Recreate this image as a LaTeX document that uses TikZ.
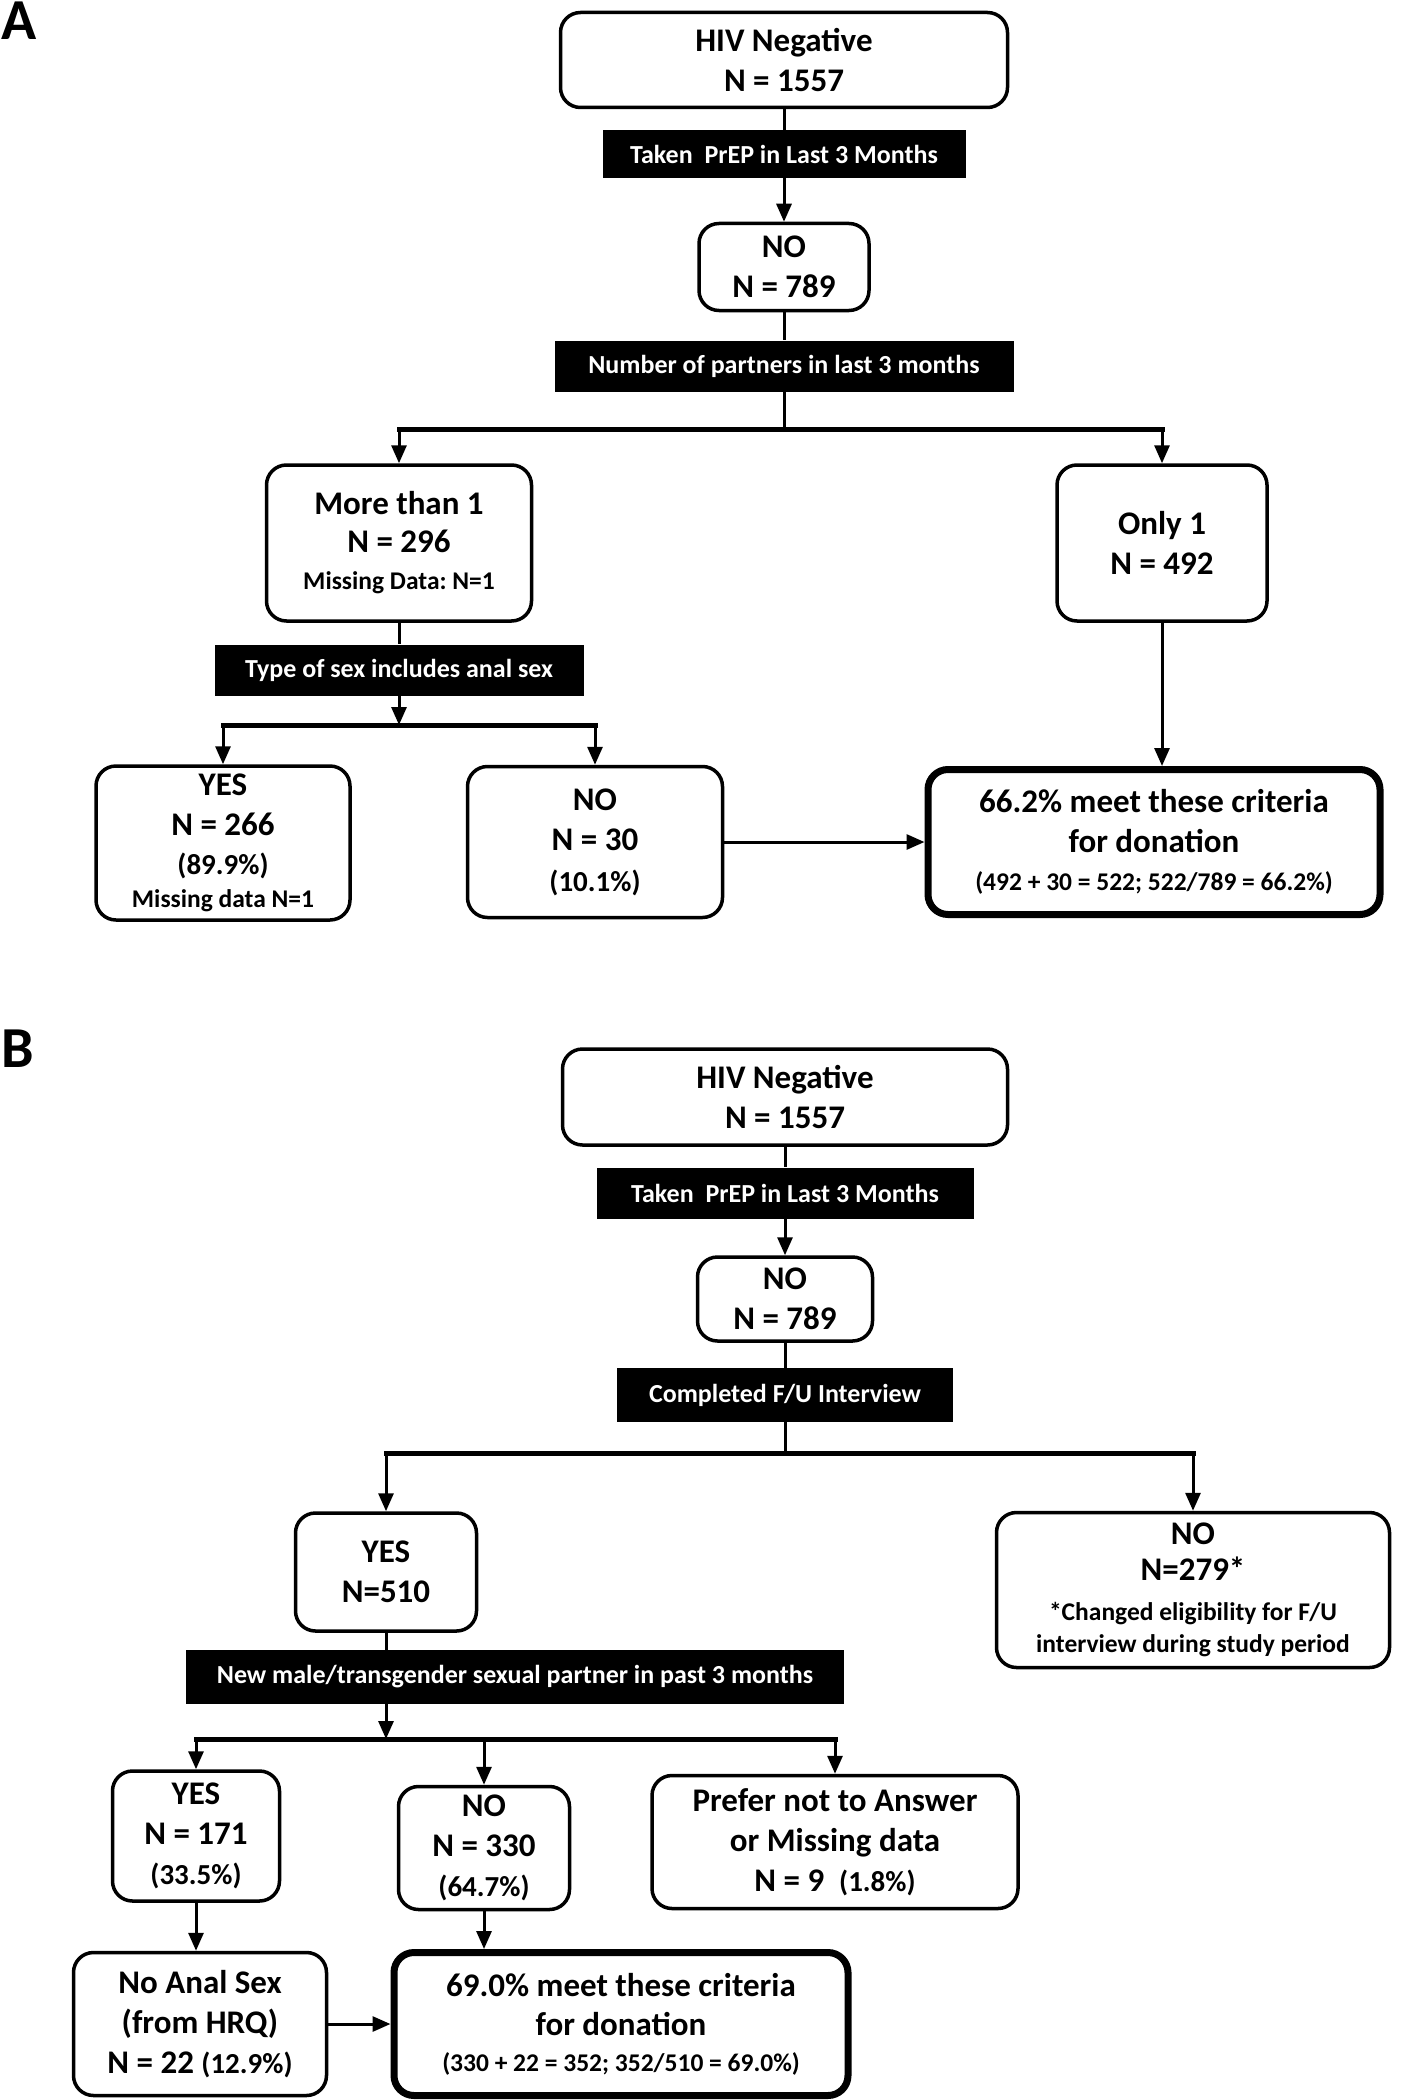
\documentclass[tikz,border=0pt]{standalone}
\usepackage{fontspec}
\setmainfont{Carlito}
\usetikzlibrary{arrows.meta}
\newcommand{\sm}{\fontsize{25.5}{32}\selectfont}
\newcommand{\pc}{\fontsize{29}{36}\selectfont}
\frenchspacing

\begin{document}
\begin{tikzpicture}[x=1pt,y=-1pt,
  every node/.style={font=\bfseries\fontsize{33}{40}\selectfont},
  box/.style={draw,line width=3.5pt,rounded corners=20pt,fill=white,align=center,inner sep=0pt},
  crit/.style={box,line width=7pt},
  qlbl/.style={fill=black,text=white,font=\bfseries\fontsize{26}{30}\selectfont,inner sep=0pt},
  panel/.style={anchor=base west,font=\bfseries\fontsize{58}{60}\selectfont},
  link/.style={line width=3pt},
  arr/.style={line width=3pt,-{Triangle[width=15pt,length=18pt]}},
  bus/.style={line width=5pt,line cap=rect}]
    \useasboundingbox (0,0) rectangle (1401,2100);
    \node[panel] (pa) at (-2,40) {A};
    \node[box,minimum width=447pt,minimum height=95pt] (a1) at (784,60) {HIV Negative\\N = 1557};
    \node[qlbl,minimum width=363pt,minimum height=48pt] (qa1) at (784,154) {Taken\ \ PrEP in Last 3 Months};
    \node[box,minimum width=170pt,minimum height=87pt] (a2) at (784,267) {NO\\N = 789};
    \node[qlbl,minimum width=459pt,minimum height=51pt] (qa2) at (784,366) {Number of partners in last 3 months};
    \coordinate (ja1) at (784,429);
    \node[box,minimum width=265pt,minimum height=156pt] (a3) at (399,543) {More than 1\\[-2.5pt]N = 296\\[-2.5pt]{\sm Missing Data: N=1}};
    \node[box,minimum width=210pt,minimum height=156pt] (a4) at (1162,543) {Only 1\\N = 492};
    \node[qlbl,minimum width=369pt,minimum height=51pt] (qa3) at (399,670) {Type of sex includes anal sex};
    \coordinate (ja2) at (399,725);
    \node[box,minimum width=254pt,minimum height=154pt] (a5) at (223,843) {YES\\N = 266\\[-1pt]{\pc (89.9\%)}\\[-6.5pt]{\sm Missing data N=1}};
    \node[box,minimum width=255pt,minimum height=151pt] (a6) at (595,842) {NO\\N = 30\\[1pt]{\pc (10.1\%)}};
    \node[crit,minimum width=452pt,minimum height=145pt] (a7) at (1154,842) {66.2\% meet these criteria\\for donation\\[-2.5pt]{\sm (492 + 30 = 522; 522/789 = 66.2\%)}};

    \draw[link] (a1) -- (qa1);
    \draw[arr] (qa1) -- (a2);
    \draw[link] (a2) -- (qa2);
    \draw[link] (qa2) -- (ja1);
    \draw[bus] (a3.north |- ja1) -- (a4.north |- ja1);
    \draw[arr] (a3.north |- ja1) -- (a3);
    \draw[arr] (a4.north |- ja1) -- (a4);
    \draw[link] (a3) -- (qa3);
    \draw[arr] (qa3) -- (ja2);
    \draw[bus] (a5.north |- ja2) -- (a6.north |- ja2);
    \draw[arr] (a5.north |- ja2) -- (a5);
    \draw[arr] (a6.north |- ja2) -- (a6);
    \draw[arr] (a6) -- (a7);
    \draw[arr] (a4.south) -- (a4.south |- a7.north);

    \node[panel] (pb) at (-2,1067) {B};
    \node[box,minimum width=445pt,minimum height=96pt] (b1) at (785,1097) {HIV Negative\\N = 1557};
    \node[qlbl,minimum width=377pt,minimum height=51pt] (qb1) at (785,1193) {Taken\ \ PrEP in Last 3 Months};
    \node[box,minimum width=175pt,minimum height=84pt] (b2) at (785,1299) {NO\\N = 789};
    \node[qlbl,minimum width=336pt,minimum height=54pt] (qb2) at (785,1395) {Completed F/U Interview};
    \coordinate (jb1) at (785,1453);
    \node[box,minimum width=181pt,minimum height=118pt] (b3) at (386,1572) {YES\\N=510};
    \node[box,minimum width=393pt,minimum height=155pt] (b4) at (1193,1590) {NO\\[-4pt]N=279*\\{\sm *Changed eligibility for F/U}\\[-8pt]{\sm interview during study period}};
    \node[qlbl,minimum width=658pt,minimum height=54pt] (qb3) at (515,1677) {New male/transgender sexual partner in past 3 months};
    \coordinate (jb2) at (386,1739);
    \node[box,minimum width=167pt,minimum height=130pt] (b5) at (196,1836) {YES\\N = 171\\{\pc (33.5\%)}};
    \node[box,minimum width=171pt,minimum height=123pt] (b6) at (484,1848) {NO\\N = 330\\{\pc (64.7\%)}};
    \node[box,minimum width=366pt,minimum height=133pt] (b7) at (835,1842) {Prefer not to Answer\\or Missing data\\N = 9\ \ {\pc (1.8\%)}};
    \node[box,minimum width=253pt,minimum height=143pt] (b8) at (200,2024) {No Anal Sex\\(from HRQ)\\N = 22 {\pc (12.9\%)}};
    \node[crit,minimum width=454pt,minimum height=143pt] (b9) at (621,2024) {69.0\% meet these criteria\\[-1pt]for donation\\[-4pt]{\sm (330 + 22 = 352; 352/510 = 69.0\%)}};

    \draw[link] (b1) -- (qb1);
    \draw[arr] (qb1) -- (b2);
    \draw[link] (b2) -- (qb2);
    \draw[link] (qb2) -- (jb1);
    \draw[bus] (b3.north |- jb1) -- (b4.north |- jb1);
    \draw[arr] (b3.north |- jb1) -- (b3);
    \draw[arr] (b4.north |- jb1) -- (b4);
    \draw[link] (b3) -- (b3 |- qb3.north);
    \draw[arr] (b3 |- qb3.south) -- (jb2);
    \draw[bus] (b5.north |- jb2) -- (b7.north |- jb2);
    \draw[arr] (b5.north |- jb2) -- (b5);
    \draw[arr] (b6.north |- jb2) -- (b6);
    \draw[arr] (b7.north |- jb2) -- (b7);
    \draw[arr] (b5.south) -- (b5.south |- b8.north);
    \draw[arr] (b6.south) -- (b6.south |- b9.north);
    \draw[arr] (b8) -- (b9);
\end{tikzpicture}
\end{document}
